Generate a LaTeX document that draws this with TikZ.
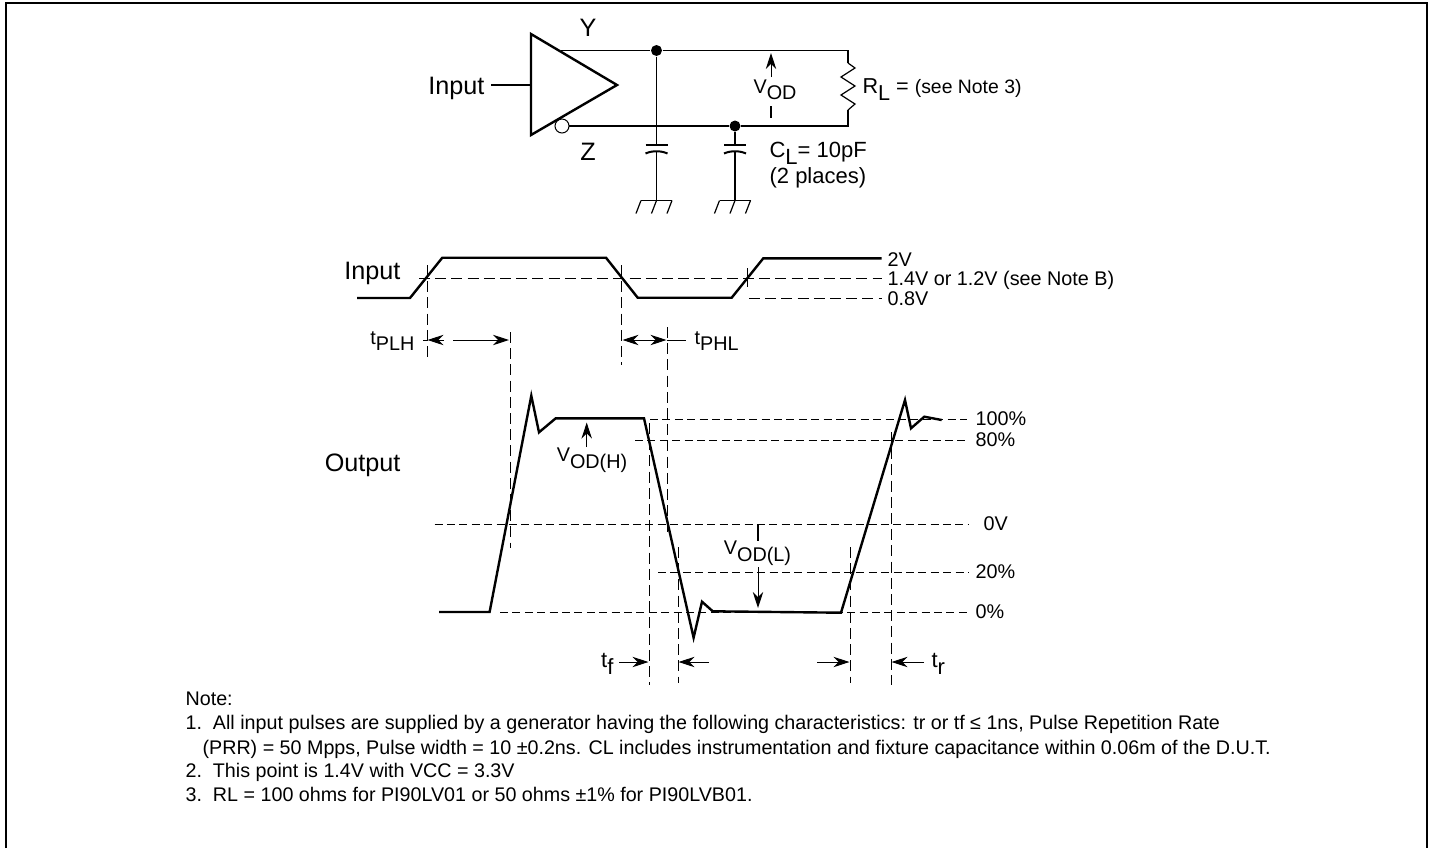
\documentclass[tikz,border=0pt]{standalone}
\usepackage{fontspec}
\setmainfont{Liberation Sans}
\usetikzlibrary{arrows.meta}
\newcommand{\lowsub}[1]{\raisebox{-.62ex}{#1}}

\begin{document}
\begin{tikzpicture}[x=0.5pt,y=-0.5pt,>={Stealth[length=8pt,width=5.2pt,inset=2.6pt]},line width=0.5pt,semithick,inner sep=0pt]
  \tikzstyle{every node}=[font=\fontsize{9.9}{12}\selectfont]
  \tikzstyle{bigtext}=[font=\fontsize{12.6}{15}\selectfont]
  \tikzstyle{midtext}=[font=\fontsize{11}{13}\selectfont]
  \tikzstyle{notetext}=[font=\fontsize{9.85}{12}\selectfont,anchor=base west]
  \tikzstyle{wire}=[line width=0.6pt]
  \tikzstyle{trace}=[line width=1.2pt,line join=miter]
  \tikzstyle{guide}=[line width=0.5pt,dash pattern=on 5.5pt off 2.6pt]
  \tikzstyle{level}=[line width=0.5pt,dash pattern=on 4pt off 2.2pt]
  \tikzstyle{timing}=[line width=0.5pt,->]
  \tikzstyle{dot}=[circle,fill=black,minimum size=5.5pt]
  \useasboundingbox (0,0) rectangle (1432,848);
  \draw[line width=0.9pt] (6,848) -- (6,3) -- (1427,3) -- (1427,848);

  \coordinate (triT) at (531,34);
  \coordinate (triE) at (617,85);
  \coordinate (triB) at (531,135);
  \coordinate (yOut) at (561,50.5);
  \coordinate (yEnd) at (848,50.5);
  \coordinate (zEnd) at (848,126);
  \coordinate (resT) at (848,63);
  \coordinate (resB) at (848,110);
  \node[bigtext,anchor=east] (in) at (485,88) {Input};
  \node[bigtext] (y) at (588,28) {Y};
  \node[bigtext] (z) at (588,152) {Z};
  \node[dot] (d1) at (656.5,50.5) {};
  \node[dot] (d2) at (735,126) {};
  \coordinate (plate1) at (656.5,144.5);
  \coordinate (cup1) at (656.5,152);
  \coordinate (gnd1) at (656.5,200.5);
  \coordinate (plate2) at (735,144.5);
  \coordinate (cup2) at (735,152);
  \coordinate (gnd2) at (735,200.5);

  \draw[wire] (yOut) -- (d1) -- (yEnd) -- (resT);
  \draw[wire] (resB) -- (zEnd) -- (d2) -- (569,126);
  \draw[wire] (491,85) -- (531,85);
  \draw[wire] (resT) -- ++(7,5) -- ++(-14,9) -- ++(14,9) -- ++(-14,9) -- ++(14,9) -- (resB);
  \node[circle,draw,fill=white,line width=0.5pt,minimum size=7pt] (bub) at (562,126) {};
  \draw[line width=1.2pt,line join=miter] (triT) -- (triE) -- (triB) -- cycle;

  \draw[wire] (d1) -- (plate1);
  \draw[wire] (cup1) -- (gnd1);
  \draw[wire] (d2) -- (plate2);
  \draw[wire] (cup2) -- (gnd2);
  \draw[line width=1pt] (645.5,144.5) -- (667.5,144.5);
  \draw[line width=1pt] (645.5,153.5) .. controls (652,150.5) and (661,150.5) .. (667.5,153.5);
  \draw[line width=1pt] (724,144.5) -- (746,144.5);
  \draw[line width=1pt] (724,153.5) .. controls (730.5,150.5) and (739.5,150.5) .. (746,153.5);
  \draw[wire] (641,200.5) -- (672,200.5);
  \draw[wire] (641,200.5) -- ++(-5,13);
  \draw[wire] (gnd1) -- ++(-5,13);
  \draw[wire] (672,200.5) -- ++(-5,13);
  \draw[wire] (719.5,200.5) -- (750.5,200.5);
  \draw[wire] (719.5,200.5) -- ++(-5,13);
  \draw[wire] (gnd2) -- ++(-5,13);
  \draw[wire] (750.5,200.5) -- ++(-5,13);

  \node (vod) at (775,90) {V\lowsub{OD}};
  \draw[timing] (771,77) -- (771,53);
  \draw[wire] (771,106) -- (771,118);
  \node[anchor=west] (rl) at (862,90) {\fontsize{10.8}{13}\selectfont R\lowsub{L} =\ \fontsize{9.7}{12}\selectfont (see Note 3)};
  \node[midtext,anchor=west] (cl) at (769,153) {C\lowsub{L}= 10pF};
  \node[midtext,anchor=west] (pl) at (769,178) {(2 places)};

  \node[bigtext,anchor=east] (input) at (401,273) {Input};
  \node[anchor=west] (v2) at (887,260) {2V};
  \node[anchor=west] (v14) at (887,280) {1.4V or 1.2V (see Note B)};
  \node[anchor=west] (v08) at (887,299) {0.8V};
  \draw[trace] (357,298) -- (410,298) -- (442.3,257.7) -- (606,257.7) -- (637.7,297.7) -- (731.7,297.7) -- (763.3,258.3) -- (881.7,258.3);
  \draw[guide] (419,278.7) -- (881.7,278.7);
  \draw[guide] (749,298) -- (881.7,298);
  \draw[guide] (427.3,265) -- (427.3,362);
  \draw[guide] (621.7,265) -- (621.7,365);
  \draw[line width=0.5pt] (747.7,268) -- (747.7,287);
  \draw[guide] (510,332) -- (510,548);
  \draw[guide] (667.7,327) -- (667.7,535);

  \node[anchor=east] (tplh) at (415,341) {t\lowsub{PLH}};
  \node[anchor=west] (tphl) at (694,341) {t\lowsub{PHL}};
  \draw[timing] (444,340) -- (427.5,340);
  \draw[line width=0.5pt] (423,340) -- (428,340);
  \draw[timing] (453,340) -- (509,340);
  \draw[timing] (645,340) -- (622.5,340);
  \draw[timing] (645,340) -- (666.5,340);
  \draw[line width=0.5pt] (666.5,340) -- (686,340);

  \node[bigtext,anchor=east] (output) at (401,465) {Output};
  \node[anchor=west] (p100) at (975,419) {100\%};
  \node[anchor=west] (p80) at (975,440) {80\%};
  \node[anchor=west] (p0v) at (983,524) {0V};
  \node[anchor=west] (p20) at (975,572) {20\%};
  \node[anchor=west] (p0) at (975,612) {0\%};
  \draw[trace] (439,612) -- (489.6,612) -- (531.3,395.7) -- (539,432.3) -- (555.7,418.3) -- (644,418.3) -- (693.6,637.7) -- (702,601.7) -- (712.8,611.3) -- (841,612.7) -- (905,400) -- (911,428.3) -- (924.3,416.7) -- (941.7,420);
  \draw[level] (650,419) -- (967,419);
  \draw[level] (635,440) -- (967,440);
  \draw[level] (434.5,524) -- (969,524);
  \draw[level] (658,572) -- (969,572);
  \draw[level] (500,612) -- (969,612);
  \draw[guide] (649,423) -- (649,685);
  \draw[guide] (678,547) -- (678,683);
  \draw[guide] (850,547) -- (850,683);
  \draw[guide] (891,432) -- (891,685);

  \node (vodh) at (592,460) {V\lowsub{OD(H)}};
  \draw[timing] (586.7,447) -- (586.7,422.5);
  \node (vodl) at (757.5,553) {V\lowsub{OD(L)}};
  \draw[wire] (758,524) -- (758,541);
  \draw[timing] (758,567) -- (758,608);

  \node[midtext,anchor=east] (tf) at (614,664) {t\lowsub{f}};
  \node[midtext,anchor=west] (tr) at (931,664) {t\lowsub{r}};
  \draw[timing] (619,662) -- (648.5,662);
  \draw[timing] (709,662) -- (678.5,662);
  \draw[timing] (817,662) -- (849.5,662);
  \draw[timing] (924,662) -- (891.5,662);

  \node[notetext] (note) at (185,705) {Note:};
  \node[notetext] (n1) at (185,729) {1.\ \ All input pulses are supplied by a generator having the following characteristics: tr or tf ≤ 1ns, Pulse Repetition Rate};
  \node[notetext] (n1b) at (202,754) {(PRR) = 50 Mpps, Pulse width = 10 ±0.2ns. CL includes instrumentation and fixture capacitance within 0.06m of the D.U.T.};
  \node[notetext] (n2) at (185,777) {2.\ \ This point is 1.4V with VCC = 3.3V};
  \node[notetext] (n3) at (185,801) {3.\ \ RL = 100 ohms for PI90LV01 or 50 ohms ±1\% for PI90LVB01.};
\end{tikzpicture}
\end{document}
